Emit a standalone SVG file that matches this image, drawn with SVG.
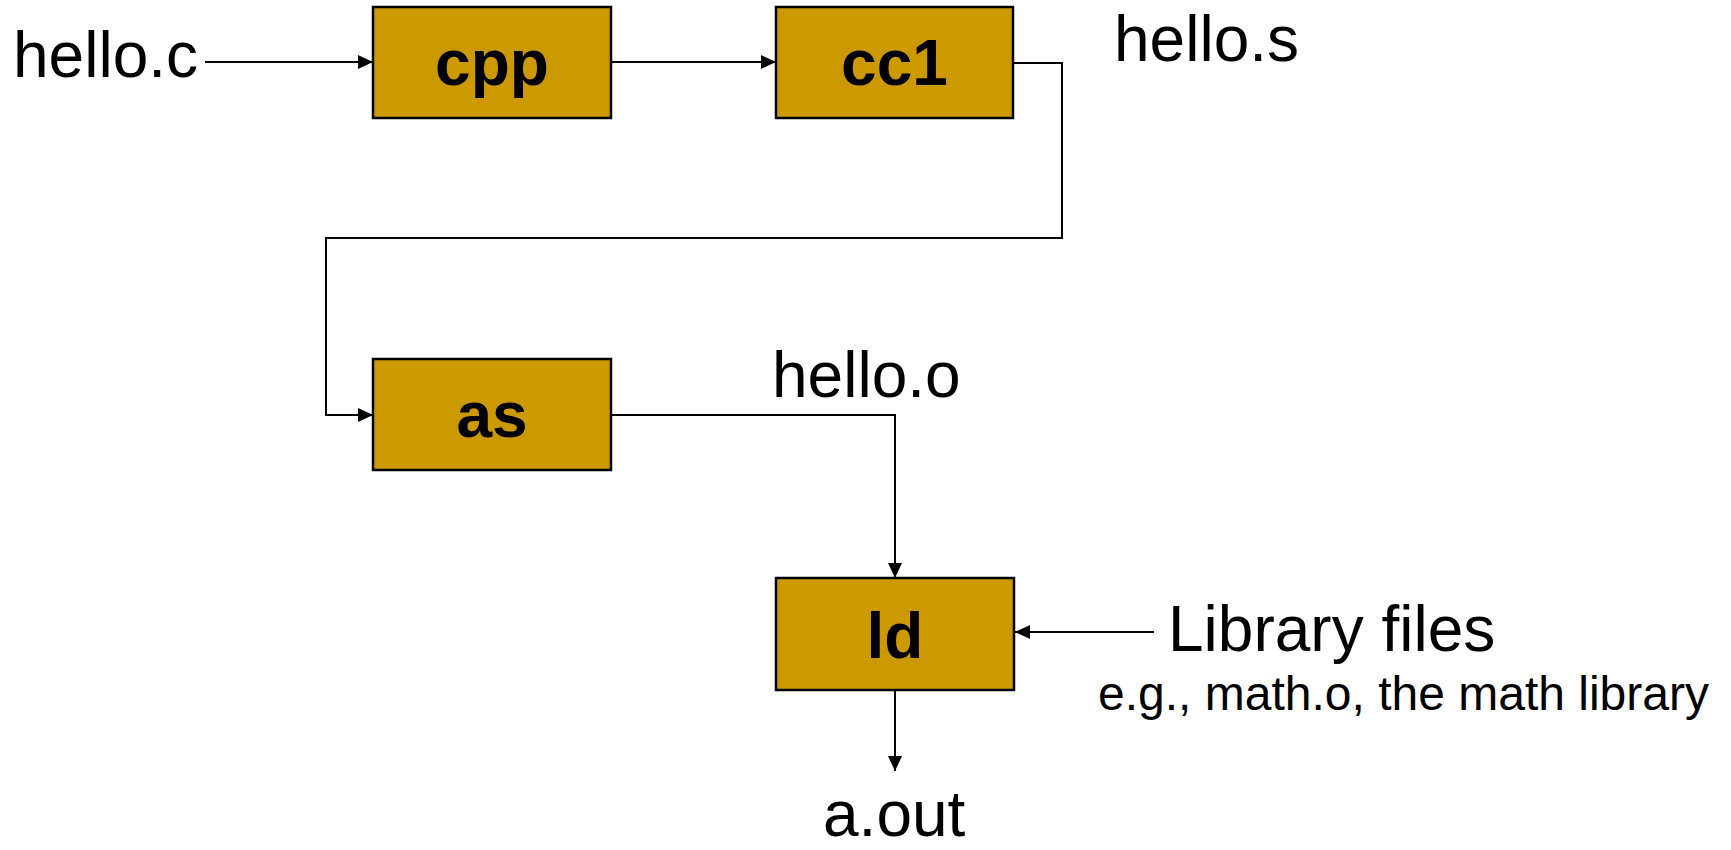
<svg xmlns="http://www.w3.org/2000/svg" width="1731" height="850" viewBox="0 0 1731 850">
<style>
.box{fill:#CC9900;stroke:#000;stroke-width:2.5}
.lbl{font-family:"Liberation Sans",Arial,sans-serif;font-weight:bold;font-size:64px;fill:#000;text-anchor:middle}
.txt{font-family:"Liberation Sans",Arial,sans-serif;font-size:64px;fill:#000}
.small{font-family:"Liberation Sans",Arial,sans-serif;font-size:48px;fill:#000}
.conn{fill:none;stroke:#000;stroke-width:2;marker-end:url(#arr)}
</style>
<defs>
<marker id="arr" markerUnits="userSpaceOnUse" markerWidth="16" markerHeight="16" viewBox="0 0 16 16" refX="15" refY="8" orient="auto">
<path d="M0,1 L15,8 L0,15 Z" fill="#000"/>
</marker>
</defs>
<rect width="1731" height="850" fill="#fff"/>
<g id="connectors">
<path class="conn" d="M205,62 H373"/>
<path class="conn" d="M611,62 H776"/>
<path class="conn" d="M1013,63 H1062 V238 H326 V415 H373"/>
<path class="conn" d="M611,415 H895 V578"/>
<path class="conn" d="M1154,632 H1015"/>
<path class="conn" d="M895,690 V771"/>
</g>
<g id="cpp"><rect class="box" x="373" y="7" width="238" height="111"/><text class="lbl" x="492" y="85">cpp</text></g>
<g id="cc1"><rect class="box" x="776" y="7" width="237" height="111"/><text class="lbl" x="894.5" y="85">cc1</text></g>
<g id="as"><rect class="box" x="373" y="359" width="238" height="111"/><text class="lbl" x="492" y="437">as</text></g>
<g id="ld"><rect class="box" x="776" y="578" width="238" height="112"/><text class="lbl" x="895" y="658">ld</text></g>
<g id="labels">
<text class="txt" x="13" y="77">hello.c</text>
<text class="txt" x="1114" y="61">hello.s</text>
<text class="txt" x="772" y="397">hello.o</text>
<text class="txt" x="1168" y="651">Library files</text>
<text class="small" x="1098" y="710">e.g., math.o, the math library</text>
<text class="txt" x="823" y="836">a.out</text>
</g>
</svg>
